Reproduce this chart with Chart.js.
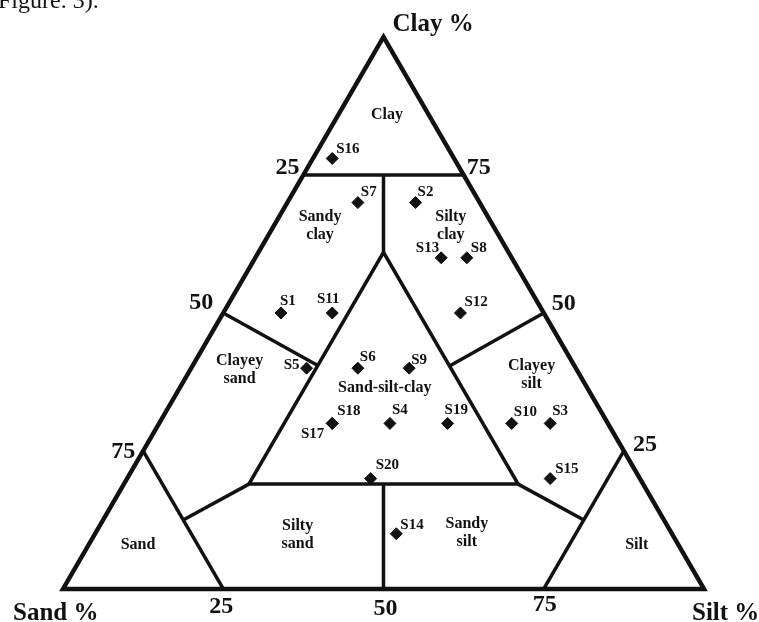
<!DOCTYPE html>
<html>
<head>
<meta charset="utf-8">
<script src="https://cdn.jsdelivr.net/npm/chart.js@4.4.0/dist/chart.umd.min.js"></script>
<style>
  html, body { margin: 0; padding: 0; background: #fff; overflow: hidden; }
  #wrap { width: 759px; height: 622px; position: relative; }
</style>
</head>
<body>
<div id="wrap"><canvas id="tern"></canvas></div>
<script>
// sample compositions (%)
const sampleNames = ['S1','S2','S3','S4','S5','S6','S7','S8','S9','S10',
                     'S11','S12','S13','S14','S15','S16','S17','S18','S19','S20'];
const sandPct = [41, 10,  9, 34, 42, 34, 19,  7, 26, 15, 33, 13, 11, 43, 14, 19, 43, 43, 25, 42];
const siltPct = [ 9, 20, 61, 36, 18, 26, 11, 33, 34, 55, 17, 37, 29, 47, 66,  3, 27, 27, 45, 38];
const clayPct = [50, 70, 30, 30, 40, 40, 70, 60, 40, 30, 50, 50, 60, 10, 20, 78, 30, 30, 30, 20];

// edge tick values
const edgeTicks = [25, 50, 75];

// class names and where their label sits, as [silt, clay] %
const regionNames = ['Clay', 'Sandy\nclay', 'Silty\nclay', 'Clayey\nsand', 'Sand-silt-clay',
                     'Clayey\nsilt', 'Sand', 'Silty\nsand', 'Sandy\nsilt', 'Silt'];
const regionAt = [[7.6, 85.9], [7.2, 65.8], [27.6, 65.8], [7.7, 39.7], [32, 36.4],
                  [53.7, 38.8], [7.7, 8], [31.7, 9.8], [57.9, 10.2], [85.5, 8]];

// class boundaries, each a run of [silt, clay] %
const boundaries = [
  [[0, 0], [100, 0], [0, 100], [0, 0], [100, 0]],
  [[0, 75], [25, 75]],
  [[0, 25], [25, 0]],
  [[75, 0], [75, 25]],
  [[19.5, 61], [19.5, 19], [61.5, 19], [19.5, 61], [19.5, 19]],
  [[12.5, 75], [19.5, 61]],
  [[0, 50], [19.5, 40.5]],
  [[50, 50], [40.1, 40.4]],
  [[19.5, 19], [12.5, 12.5]],
  [[61.5, 19], [75, 12.5]],
  [[40.5, 19], [50, 0]]
];

// label nudges in px: [dx, dy, align]
const sampleLabelPos = [
  [-1, -12, 'left'], [2, -10, 'left'], [2, -12, 'left'], [2, -13, 'left'], [-7, -3, 'right'],
  [2, -11, 'left'], [3, -10, 'left'], [4, -10, 'left'], [2, -8, 'left'], [2, -11, 'left'],
  [-4, -14, 'center'], [4, -11, 'left'], [-2, -10, 'right'], [4, -9, 'left'], [5, -9, 'left'],
  [4, -9, 'left'], [-8, 11, 'right'], [5, -12, 'left'], [-3, -13, 'left'], [5, -13, 'left']
];

const INK = '#111';
const SERIF = '"Liberation Serif", "Times New Roman", serif';

// ternary -> cartesian (sand corner at 0,0, silt at 100,0)
const pt = (silt, clay) => ({ x: silt + clay / 2, y: clay });

const lineSets = boundaries.map((run, i) => ({
  data: run.map(p => pt(p[0], p[1])),
  showLine: true,
  borderColor: INK,
  borderWidth: i === 0 ? 4.5 : 3.5,
  borderJoinStyle: 'miter',
  borderCapStyle: 'butt',
  pointRadius: 0,
  tension: 0
}));

const sampleSet = {
  data: sampleNames.map((_, i) => pt(siltPct[i], clayPct[i])),
  pointStyle: 'rectRot',
  pointRadius: 6,
  backgroundColor: INK,
  borderColor: INK,
  borderWidth: 1,
  showLine: false
};

const textPlugin = {
  id: 'ternText',
  afterDatasetsDraw(chart) {
    const { ctx, scales: { x, y } } = chart;
    const px = p => [x.getPixelForValue(p.x), y.getPixelForValue(p.y)];
    ctx.save();
    ctx.fillStyle = INK;

    // caption fragment cut off at the top
    ctx.font = '24px ' + SERIF;
    ctx.textAlign = 'left';
    ctx.textBaseline = 'alphabetic';
    ctx.fillText('Figure. 3).', -2, 8);

    // corner titles
    ctx.font = 'bold 25px ' + SERIF;
    let [cx, cy] = px(pt(0, 100));
    ctx.fillText('Clay %', cx + 9, cy - 6);
    [cx, cy] = px(pt(0, 0));
    ctx.fillText('Sand %', cx - 50, cy + 31);
    [cx, cy] = px(pt(100, 0));
    ctx.fillText('Silt %', cx - 12, cy + 31);

    // edge ticks
    ctx.font = 'bold 24px ' + SERIF;
    ctx.textAlign = 'center';
    ctx.textBaseline = 'middle';
    const leftOff = [[-16, -7], [-22, -10], [-20, 1]];
    const rightOff = [[21, -6], [20, -9], [15, -7]];
    const bottomOff = [[-2, 18], [2, 20], [1, 16]];
    edgeTicks.forEach((v, i) => {
      let [a, b] = px(pt(0, 100 - v));          // sand % on left edge
      ctx.fillText(String(v), a + leftOff[i][0], b + leftOff[i][1]);
      [a, b] = px(pt(100 - v, v));              // clay % on right edge
      ctx.fillText(String(v), a + rightOff[i][0], b + rightOff[i][1]);
      [a, b] = px(pt(v, 0));                    // silt % on base
      ctx.fillText(String(v), a + bottomOff[i][0], b + bottomOff[i][1]);
    });

    // class names
    ctx.font = 'bold 16px ' + SERIF;
    regionNames.forEach((name, i) => {
      const [a, b] = px(pt(regionAt[i][0], regionAt[i][1]));
      const rows = name.split('\n');
      rows.forEach((r, k) => ctx.fillText(r, a, b + (k - (rows.length - 1) / 2) * 18.5));
    });

    // sample labels
    ctx.font = 'bold 15px ' + SERIF;
    sampleNames.forEach((name, i) => {
      const [a, b] = px(pt(siltPct[i], clayPct[i]));
      const [dx, dy, al] = sampleLabelPos[i];
      ctx.textAlign = al;
      ctx.fillText(name, a + dx, b + dy);
    });
    ctx.restore();
  }
};

new Chart(document.getElementById('tern'), {
  type: 'scatter',
  data: { datasets: [...lineSets, sampleSet] },
  options: {
    responsive: true,
    maintainAspectRatio: false,
    animation: false,
    events: [],
    layout: { padding: 0, autoPadding: false },
    scales: {
      x: { type: 'linear', min: -9.83, max: 108.58, display: false },
      y: { type: 'linear', min: -5.98, max: 106.7, display: false }
    },
    plugins: {
      legend: { display: false },
      tooltip: { enabled: false }
    }
  },
  plugins: [textPlugin]
});
</script>
</body>
</html>
